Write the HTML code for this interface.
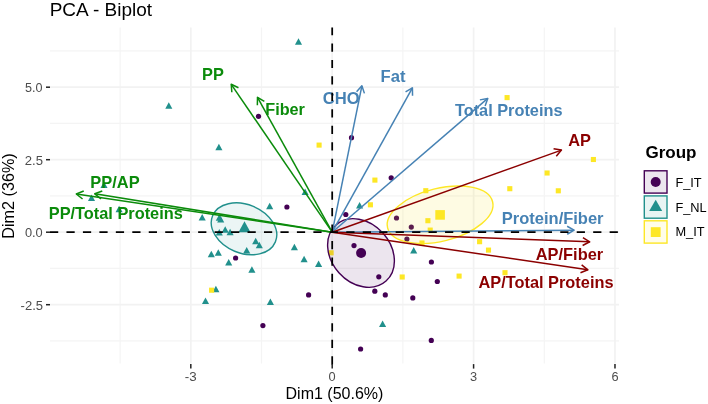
<!DOCTYPE html>
<html><head><meta charset="utf-8"><style>
html,body{margin:0;padding:0;background:#fff;}
svg{display:block;font-family:"Liberation Sans",sans-serif;will-change:transform;}
</style></head><body>
<svg width="708" height="404" viewBox="0 0 708 404">
<rect width="708" height="404" fill="#fff"/>
<g>
<line x1="120.11" y1="27.5" x2="120.11" y2="363.5" stroke="#F4F4F4" stroke-width="1.2"/>
<line x1="261.50" y1="27.5" x2="261.50" y2="363.5" stroke="#F4F4F4" stroke-width="1.2"/>
<line x1="402.89" y1="27.5" x2="402.89" y2="363.5" stroke="#F4F4F4" stroke-width="1.2"/>
<line x1="544.28" y1="27.5" x2="544.28" y2="363.5" stroke="#F4F4F4" stroke-width="1.2"/>
<line x1="50.0" y1="340.95" x2="619.0" y2="340.95" stroke="#F4F4F4" stroke-width="1.2"/>
<line x1="50.0" y1="268.45" x2="619.0" y2="268.45" stroke="#F4F4F4" stroke-width="1.2"/>
<line x1="50.0" y1="195.95" x2="619.0" y2="195.95" stroke="#F4F4F4" stroke-width="1.2"/>
<line x1="50.0" y1="123.45" x2="619.0" y2="123.45" stroke="#F4F4F4" stroke-width="1.2"/>
<line x1="50.0" y1="50.95" x2="619.0" y2="50.95" stroke="#F4F4F4" stroke-width="1.2"/>
<line x1="190.81" y1="27.5" x2="190.81" y2="363.5" stroke="#F2F2F2" stroke-width="1.7"/>
<line x1="332.20" y1="27.5" x2="332.20" y2="363.5" stroke="#F2F2F2" stroke-width="1.7"/>
<line x1="473.59" y1="27.5" x2="473.59" y2="363.5" stroke="#F2F2F2" stroke-width="1.7"/>
<line x1="614.98" y1="27.5" x2="614.98" y2="363.5" stroke="#F2F2F2" stroke-width="1.7"/>
<line x1="50.0" y1="304.70" x2="619.0" y2="304.70" stroke="#F2F2F2" stroke-width="1.7"/>
<line x1="50.0" y1="232.20" x2="619.0" y2="232.20" stroke="#F2F2F2" stroke-width="1.7"/>
<line x1="50.0" y1="159.70" x2="619.0" y2="159.70" stroke="#F2F2F2" stroke-width="1.7"/>
<line x1="50.0" y1="87.20" x2="619.0" y2="87.20" stroke="#F2F2F2" stroke-width="1.7"/>
<circle cx="258.50" cy="116.30" r="2.60" fill="#440154"/>
<circle cx="351.50" cy="137.70" r="2.60" fill="#440154"/>
<circle cx="391.20" cy="177.80" r="2.60" fill="#440154"/>
<circle cx="286.90" cy="207.00" r="2.60" fill="#440154"/>
<circle cx="235.60" cy="258.00" r="2.60" fill="#440154"/>
<circle cx="262.90" cy="325.60" r="2.60" fill="#440154"/>
<circle cx="345.80" cy="214.50" r="2.60" fill="#440154"/>
<circle cx="396.50" cy="218.00" r="2.60" fill="#440154"/>
<circle cx="354.00" cy="245.60" r="2.60" fill="#440154"/>
<circle cx="378.80" cy="276.80" r="2.60" fill="#440154"/>
<circle cx="374.80" cy="291.20" r="2.60" fill="#440154"/>
<circle cx="385.30" cy="294.90" r="2.60" fill="#440154"/>
<circle cx="308.60" cy="294.90" r="2.60" fill="#440154"/>
<circle cx="406.90" cy="239.10" r="2.60" fill="#440154"/>
<circle cx="411.30" cy="227.10" r="2.60" fill="#440154"/>
<circle cx="412.80" cy="297.90" r="2.60" fill="#440154"/>
<circle cx="431.40" cy="262.00" r="2.60" fill="#440154"/>
<circle cx="437.30" cy="281.50" r="2.60" fill="#440154"/>
<circle cx="431.30" cy="340.40" r="2.60" fill="#440154"/>
<circle cx="360.60" cy="349.00" r="2.60" fill="#440154"/>
<polygon points="298.50,38.35 302.05,44.85 294.95,44.85" fill="#21908C"/>
<polygon points="168.80,102.35 172.35,108.85 165.25,108.85" fill="#21908C"/>
<polygon points="218.90,143.75 222.45,150.25 215.35,150.25" fill="#21908C"/>
<polygon points="305.10,188.45 308.65,194.95 301.55,194.95" fill="#21908C"/>
<polygon points="104.00,181.45 107.55,187.95 100.45,187.95" fill="#21908C"/>
<polygon points="91.50,194.45 95.05,200.95 87.95,200.95" fill="#21908C"/>
<polygon points="119.10,205.75 122.65,212.25 115.55,212.25" fill="#21908C"/>
<polygon points="202.20,214.05 205.75,220.55 198.65,220.55" fill="#21908C"/>
<polygon points="219.30,214.25 222.85,220.75 215.75,220.75" fill="#21908C"/>
<polygon points="220.70,215.95 224.25,222.45 217.15,222.45" fill="#21908C"/>
<polygon points="219.30,228.95 222.85,235.45 215.75,235.45" fill="#21908C"/>
<polygon points="225.20,226.15 228.75,232.65 221.65,232.65" fill="#21908C"/>
<polygon points="230.10,228.65 233.65,235.15 226.55,235.15" fill="#21908C"/>
<polygon points="269.70,202.65 273.25,209.15 266.15,209.15" fill="#21908C"/>
<polygon points="255.70,237.65 259.25,244.15 252.15,244.15" fill="#21908C"/>
<polygon points="259.30,241.85 262.85,248.35 255.75,248.35" fill="#21908C"/>
<polygon points="246.70,247.05 250.25,253.55 243.15,253.55" fill="#21908C"/>
<polygon points="211.30,250.65 214.85,257.15 207.75,257.15" fill="#21908C"/>
<polygon points="218.30,249.15 221.85,255.65 214.75,255.65" fill="#21908C"/>
<polygon points="228.70,258.95 232.25,265.45 225.15,265.45" fill="#21908C"/>
<polygon points="251.90,266.35 255.45,272.85 248.35,272.85" fill="#21908C"/>
<polygon points="215.90,285.85 219.45,292.35 212.35,292.35" fill="#21908C"/>
<polygon points="205.50,297.45 209.05,303.95 201.95,303.95" fill="#21908C"/>
<polygon points="270.40,298.45 273.95,304.95 266.85,304.95" fill="#21908C"/>
<polygon points="294.40,243.85 297.95,250.35 290.85,250.35" fill="#21908C"/>
<polygon points="304.10,255.75 307.65,262.25 300.55,262.25" fill="#21908C"/>
<polygon points="318.60,260.45 322.15,266.95 315.05,266.95" fill="#21908C"/>
<polygon points="413.70,246.95 417.25,253.45 410.15,253.45" fill="#21908C"/>
<polygon points="382.60,320.45 386.15,326.95 379.05,326.95" fill="#21908C"/>
<polygon points="359.60,201.95 363.15,208.45 356.05,208.45" fill="#21908C"/>
<rect x="504.55" y="95.05" width="5.10" height="5.10" fill="#FDE725"/>
<rect x="316.55" y="142.55" width="5.10" height="5.10" fill="#FDE725"/>
<rect x="372.35" y="177.55" width="5.10" height="5.10" fill="#FDE725"/>
<rect x="423.25" y="188.15" width="5.10" height="5.10" fill="#FDE725"/>
<rect x="590.85" y="156.95" width="5.10" height="5.10" fill="#FDE725"/>
<rect x="544.55" y="170.45" width="5.10" height="5.10" fill="#FDE725"/>
<rect x="507.25" y="186.15" width="5.10" height="5.10" fill="#FDE725"/>
<rect x="555.75" y="188.25" width="5.10" height="5.10" fill="#FDE725"/>
<rect x="425.35" y="218.15" width="5.10" height="5.10" fill="#FDE725"/>
<rect x="427.65" y="227.55" width="5.10" height="5.10" fill="#FDE725"/>
<rect x="419.45" y="240.45" width="5.10" height="5.10" fill="#FDE725"/>
<rect x="477.05" y="239.15" width="5.10" height="5.10" fill="#FDE725"/>
<rect x="485.95" y="247.55" width="5.10" height="5.10" fill="#FDE725"/>
<rect x="502.45" y="270.15" width="5.10" height="5.10" fill="#FDE725"/>
<rect x="456.55" y="273.55" width="5.10" height="5.10" fill="#FDE725"/>
<rect x="399.65" y="274.45" width="5.10" height="5.10" fill="#FDE725"/>
<rect x="209.05" y="287.65" width="5.10" height="5.10" fill="#FDE725"/>
<rect x="328.55" y="250.25" width="5.10" height="5.10" fill="#FDE725"/>
<rect x="367.85" y="202.25" width="5.10" height="5.10" fill="#FDE725"/>
<ellipse cx="244.0" cy="228.8" rx="34.0" ry="24.3" transform="rotate(22.6 244.0 228.8)" fill="rgba(33,144,140,0.09)" stroke="#21908C" stroke-width="1.4"/>
<ellipse cx="361.0" cy="253.0" rx="37.6" ry="29.6" transform="rotate(48.3 361.0 253.0)" fill="rgba(68,1,84,0.10)" stroke="#440154" stroke-width="1.4"/>
<ellipse cx="440.1" cy="214.8" rx="54.1" ry="26.4" transform="rotate(-14.0 440.1 214.8)" fill="rgba(250,225,37,0.13)" stroke="#FDE725" stroke-width="1.4"/>
<circle cx="361.10" cy="253.00" r="5.00" fill="#440154"/>
<polygon points="244.50,221.20 250.50,232.20 238.50,232.20" fill="#21908C"/>
<rect x="435.30" y="210.10" width="9.60" height="9.60" fill="#FDE725"/>
<line x1="332.2" y1="232.2" x2="231.24" y2="84.3" stroke="#0B8B0B" stroke-width="1.5"/>
<polyline points="231.84,92.28 231.24,84.3 238.45,87.77" fill="none" stroke="#0B8B0B" stroke-width="1.5" stroke-linejoin="round" stroke-linecap="butt"/>
<line x1="332.2" y1="232.2" x2="257.49" y2="97.32" stroke="#0B8B0B" stroke-width="1.5"/>
<polyline points="257.35,105.32 257.49,97.32 264.35,101.44" fill="none" stroke="#0B8B0B" stroke-width="1.5" stroke-linejoin="round" stroke-linecap="butt"/>
<line x1="332.2" y1="232.2" x2="76.29" y2="193.99" stroke="#0B8B0B" stroke-width="1.5"/>
<polyline points="82.55,198.97 76.29,193.99 83.73,191.06" fill="none" stroke="#0B8B0B" stroke-width="1.5" stroke-linejoin="round" stroke-linecap="butt"/>
<line x1="332.2" y1="232.2" x2="94.79" y2="193.8" stroke="#0B8B0B" stroke-width="1.5"/>
<polyline points="100.99,198.86 94.79,193.8 102.27,190.96" fill="none" stroke="#0B8B0B" stroke-width="1.5" stroke-linejoin="round" stroke-linecap="butt"/>
<line x1="332.2" y1="232.2" x2="361.88" y2="85.79" stroke="#4682B4" stroke-width="1.5"/>
<polyline points="356.58,91.79 361.88,85.79 364.42,93.37" fill="none" stroke="#4682B4" stroke-width="1.5" stroke-linejoin="round" stroke-linecap="butt"/>
<line x1="332.2" y1="232.2" x2="412.41" y2="87.82" stroke="#4682B4" stroke-width="1.5"/>
<polyline points="405.55,91.93 412.41,87.82 412.54,95.82" fill="none" stroke="#4682B4" stroke-width="1.5" stroke-linejoin="round" stroke-linecap="butt"/>
<line x1="332.2" y1="232.2" x2="487.75" y2="98.39" stroke="#4682B4" stroke-width="1.5"/>
<polyline points="479.89,99.88 487.75,98.39 485.11,105.94" fill="none" stroke="#4682B4" stroke-width="1.5" stroke-linejoin="round" stroke-linecap="butt"/>
<line x1="332.2" y1="232.2" x2="574.1" y2="230.2" stroke="#4682B4" stroke-width="1.5"/>
<polyline points="567.14,226.26 574.1,230.2 567.21,234.26" fill="none" stroke="#4682B4" stroke-width="1.5" stroke-linejoin="round" stroke-linecap="butt"/>
<line x1="332.2" y1="232.2" x2="561.44" y2="150.1" stroke="#8B0000" stroke-width="1.5"/>
<polyline points="553.57,148.67 561.44,150.1 556.27,156.20" fill="none" stroke="#8B0000" stroke-width="1.5" stroke-linejoin="round" stroke-linecap="butt"/>
<line x1="332.2" y1="232.2" x2="589.7" y2="241.78" stroke="#8B0000" stroke-width="1.5"/>
<polyline points="582.93,237.53 589.7,241.78 582.63,245.52" fill="none" stroke="#8B0000" stroke-width="1.5" stroke-linejoin="round" stroke-linecap="butt"/>
<line x1="332.2" y1="232.2" x2="587.91" y2="269.81" stroke="#8B0000" stroke-width="1.5"/>
<polyline points="581.64,264.84 587.91,269.81 580.47,272.76" fill="none" stroke="#8B0000" stroke-width="1.5" stroke-linejoin="round" stroke-linecap="butt"/>
<text transform="translate(202.06,79.75) scale(0.9904,1)" font-size="16.50" font-weight="bold" fill="#0B8B0B" >PP</text>
<text transform="translate(265.26,115.00) scale(0.9836,1)" font-size="16.50" font-weight="bold" fill="#0B8B0B" >Fiber</text>
<text transform="translate(90.35,187.60) scale(0.9961,1)" font-size="16.50" font-weight="bold" fill="#0B8B0B" >PP/AP</text>
<text transform="translate(48.75,218.90) scale(0.9914,1)" font-size="16.50" font-weight="bold" fill="#0B8B0B" >PP/Total Proteins</text>
<text transform="translate(322.73,103.80) scale(1.0082,1)" font-size="16.50" font-weight="bold" fill="#4682B4" >CHO</text>
<text transform="translate(380.54,82.20) scale(1.0073,1)" font-size="16.50" font-weight="bold" fill="#4682B4" >Fat</text>
<text transform="translate(454.94,116.30) scale(0.9891,1)" font-size="16.50" font-weight="bold" fill="#4682B4" >Total Proteins</text>
<text transform="translate(501.85,224.40) scale(0.9998,1)" font-size="16.50" font-weight="bold" fill="#4682B4" >Protein/Fiber</text>
<text transform="translate(568.21,145.70) scale(0.9917,1)" font-size="16.50" font-weight="bold" fill="#8B0000" >AP</text>
<text transform="translate(535.71,260.10) scale(0.9942,1)" font-size="16.50" font-weight="bold" fill="#8B0000" >AP/Fiber</text>
<text transform="translate(478.41,288.20) scale(0.9923,1)" font-size="16.50" font-weight="bold" fill="#8B0000" >AP/Total Proteins</text>
<line x1="50.0" y1="232.2" x2="619.0" y2="232.2" stroke="#000" stroke-width="1.75" stroke-dasharray="8.23 8.23"/>
<line x1="332.2" y1="364.4" x2="332.2" y2="27.5" stroke="#000" stroke-width="1.75" stroke-dasharray="8.23 8.23"/>
<line x1="46" y1="304.70" x2="50" y2="304.70" stroke="#222222" stroke-width="1.5"/>
<line x1="46" y1="232.20" x2="50" y2="232.20" stroke="#222222" stroke-width="1.5"/>
<line x1="46" y1="159.70" x2="50" y2="159.70" stroke="#222222" stroke-width="1.5"/>
<line x1="46" y1="87.20" x2="50" y2="87.20" stroke="#222222" stroke-width="1.5"/>
<line x1="190.81" y1="364.1" x2="190.81" y2="368.6" stroke="#222222" stroke-width="1.5"/>
<line x1="332.20" y1="364.1" x2="332.20" y2="368.6" stroke="#222222" stroke-width="1.5"/>
<line x1="473.59" y1="364.1" x2="473.59" y2="368.6" stroke="#222222" stroke-width="1.5"/>
<line x1="614.98" y1="364.1" x2="614.98" y2="368.6" stroke="#222222" stroke-width="1.5"/>
<text transform="translate(25.00,91.60) scale(0.9840,1)" font-size="12.80" font-weight="normal" fill="#4D4D4D" >5.0</text>
<text transform="translate(24.74,164.70) scale(1.0235,1)" font-size="12.80" font-weight="normal" fill="#4D4D4D" >2.5</text>
<text transform="translate(24.89,236.80) scale(1.0019,1)" font-size="12.80" font-weight="normal" fill="#4D4D4D" >0.0</text>
<text transform="translate(20.58,309.90) scale(1.0194,1)" font-size="12.80" font-weight="normal" fill="#4D4D4D" >-2.5</text>
<text transform="translate(184.87,380.80) scale(1.0449,1)" font-size="12.80" font-weight="normal" fill="#4D4D4D" >-3</text>
<text transform="translate(328.62,380.80) scale(1.0000,1)" font-size="12.80" font-weight="normal" fill="#4D4D4D" >0</text>
<text transform="translate(470.07,380.80) scale(1.0000,1)" font-size="12.80" font-weight="normal" fill="#4D4D4D" >3</text>
<text transform="translate(611.40,380.80) scale(1.0000,1)" font-size="12.80" font-weight="normal" fill="#4D4D4D" >6</text>
<text transform="translate(49.68,15.70) scale(0.9896,1)" font-size="19.20" font-weight="normal" fill="#000" >PCA - Biplot</text>
<text transform="translate(285.52,398.90) scale(1.0019,1)" font-size="16.00" font-weight="normal" fill="#000" >Dim1 (50.6%)</text>
<text transform="translate(14.00,238.69) rotate(-90) scale(1.0117,1)" font-size="16.0" fill="#000">Dim2 (36%)</text>
<text transform="translate(645.42,157.80) scale(1.0152,1)" font-size="16.80" font-weight="bold" fill="#000" >Group</text>
<rect x="644.3" y="170.80" width="22.7" height="22.3" fill="rgba(68,1,84,0.10)" stroke="#440154" stroke-width="1.4"/>
<rect x="644.3" y="195.90" width="22.7" height="22.3" fill="rgba(33,144,140,0.10)" stroke="#21908C" stroke-width="1.4"/>
<rect x="644.3" y="220.80" width="22.7" height="22.3" fill="rgba(253,231,37,0.10)" stroke="#FDE725" stroke-width="1.4"/>
<circle cx="655.70" cy="182.00" r="5.00" fill="#440154"/>
<polygon points="655.70,199.80 662.20,211.00 649.20,211.00" fill="#21908C"/>
<rect x="650.80" y="227.20" width="9.80" height="9.80" fill="#FDE725"/>
<text transform="translate(675.38,186.70) scale(1.0000,1)" font-size="12.80" font-weight="normal" fill="#000" >F_IT</text>
<text transform="translate(675.38,211.70) scale(1.0000,1)" font-size="12.80" font-weight="normal" fill="#000" >F_NL</text>
<text transform="translate(675.38,236.40) scale(1.0000,1)" font-size="12.80" font-weight="normal" fill="#000" >M_IT</text>
</g>
</svg>
</body></html>
